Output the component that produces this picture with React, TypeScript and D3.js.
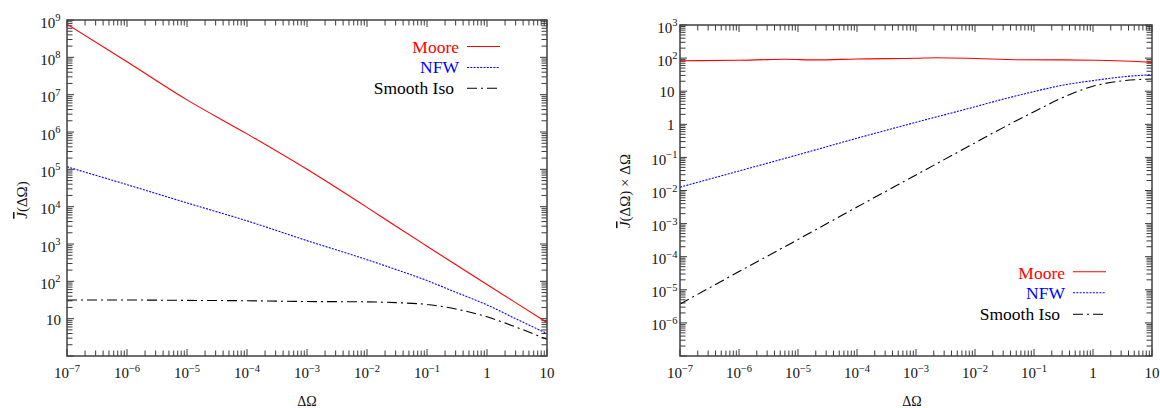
import React from "react";
import * as d3 from "d3";

// ---------- data ----------
// Left panel: J(ΔΩ)
const leftDeltaOmega = [1e-7, 1e-6, 1e-5, 1e-4, 1e-3, 1e-2, 3e-2, 0.1, 0.3, 1, 3, 10];
const leftMoore = [7.76e8, 7.59e7, 7.24e6, 8.91e5, 1.0e5, 9550, 3020, 871, 282, 82.2, 26.9, 7.94];
const leftNFW = [1.17e5, 3.89e4, 1.26e4, 4170, 1230, 380, 209, 105, 51.3, 23.4, 10.0, 4.0];
const leftIso = [31.6, 31.6, 30.9, 30.2, 28.8, 28.2, 26.9, 24.0, 18.2, 11.2, 6.0, 2.8];

// Right panel: J(ΔΩ) × ΔΩ
const rightMooreDeltaOmega = [1e-7, 1e-6, 3e-6, 6e-6, 2e-5, 1e-4, 1e-3, 2.2e-3, 1e-2, 5e-2, 0.3, 1, 2.5, 10];
const rightMoore = [83.2, 85.7, 90.2, 92.3, 88.1, 94.4, 98.9, 102.8, 97.7, 89.5, 88.1, 86.1, 83.2, 74.1];
const rightDeltaOmega = [1e-7, 1e-6, 1e-5, 1e-4, 1e-3, 1e-2, 3e-2, 0.1, 0.3, 1, 3, 10];
const rightNFW = [0.0126, 0.0389, 0.12, 0.38, 1.15, 3.39, 5.75, 9.77, 15.1, 20.9, 26.9, 31.6];
const rightIso = [3.72e-6, 3.55e-5, 3.31e-4, 3.16e-3, 0.0295, 0.275, 0.794, 2.40, 6.31, 14.1, 20.4, 23.4];

const xTickExps = [-7, -6, -5, -4, -3, -2, -1, 0, 1];
const leftYTickExps = [1, 2, 3, 4, 5, 6, 7, 8, 9];
const rightYTickExps = [-6, -5, -4, -3, -2, -1, 0, 1, 2, 3];
const legendNames = ["Moore", "NFW", "Smooth Iso"];

const FONT = "Liberation Serif";
const COLORS = ["#ff0000", "#0000ff", "#000000"];
const DASHES = [undefined, "2,1.3", "10,4,2,4"];

type Series = { x: number[]; y: number[] };

function expLabel(e: number) {
  if (e === 0) return { base: "1", sup: null as string | null };
  if (e === 1) return { base: "10", sup: null as string | null };
  return { base: "10", sup: e < 0 ? "\u2212" + String(-e) : String(e) };
}

function Panel(props: {
  left: number; right: number; top: number; bottom: number;
  yDomain: [number, number]; yTicks: number[];
  series: Series[];
  yLabelEndSup: number; yLabelEndPlain: number;
  xTitleX: number; yTitleX: number; yTitleY: number; yTitleExtra: boolean;
  legend: { textRight: number[]; lineX0: number; lineX1: number; lineY: number[]; baseY: number[] };
  clipId: string;
}) {
  const { left, right, top, bottom } = props;
  const x = d3.scaleLog().domain([1e-7, 10]).range([left, right]);
  const y = d3.scaleLog().domain(props.yDomain).range([bottom, top]);
  const majorLen = 7, minorLen = 5.5;
  const tickColor = "#3a3a3a";

  const ticks: any[] = [];
  for (let e = -7; e <= 1; e++) {
    for (let m = 1; m <= 9; m++) {
      const v = m * Math.pow(10, e);
      if (v > 10 * 1.0001) break;
      const px = x(v);
      const len = m === 1 ? majorLen : minorLen;
      ticks.push(<line key={`xb${e}_${m}`} x1={px} x2={px} y1={bottom} y2={bottom - len} stroke={tickColor} strokeWidth={1} />);
      ticks.push(<line key={`xt${e}_${m}`} x1={px} x2={px} y1={top} y2={top + len} stroke={tickColor} strokeWidth={1} />);
    }
  }
  const yE0 = Math.round(Math.log10(props.yDomain[0]));
  const yE1 = Math.round(Math.log10(props.yDomain[1]));
  for (let e = yE0; e <= yE1; e++) {
    for (let m = 1; m <= 9; m++) {
      const v = m * Math.pow(10, e);
      if (v > props.yDomain[1] * 1.0001) break;
      const py = y(v);
      const len = m === 1 ? majorLen : minorLen;
      ticks.push(<line key={`yl${e}_${m}`} x1={left} x2={left + len} y1={py} y2={py} stroke={tickColor} strokeWidth={1} />);
      ticks.push(<line key={`yr${e}_${m}`} x1={right} x2={right - len} y1={py} y2={py} stroke={tickColor} strokeWidth={1} />);
    }
  }

  const line = d3.line<[number, number]>().x(d => x(d[0])).y(d => y(d[1])).curve(d3.curveMonotoneX);

  return (
    <g>
      <defs>
        <clipPath id={props.clipId}>
          <rect x={left} y={top} width={right - left} height={bottom - top} />
        </clipPath>
      </defs>
      {ticks}
      <g clipPath={`url(#${props.clipId})`}>
        {props.series.map((s, i) => (
          <path key={i} d={line(s.x.map((xv, j) => [xv, s.y[j]] as [number, number])) || ""}
            fill="none" stroke={COLORS[i]} strokeWidth={1.1} strokeDasharray={DASHES[i]} />
        ))}
      </g>
      <rect x={left} y={top} width={right - left} height={bottom - top} fill="none" stroke="#404040" strokeWidth={1.5} />
      {xTickExps.map(e => {
        const l = expLabel(e);
        return (
          <text key={`xl${e}`} x={x(Math.pow(10, e))} y={378} textAnchor="middle" fontFamily={FONT} fontSize={15} fill="#111">
            {l.base}
            {l.sup && <tspan fontSize={10.5} dy={-6.5}>{l.sup}</tspan>}
          </text>
        );
      })}
      {props.yTicks.map(e => {
        const l = expLabel(e);
        const py = y(Math.pow(10, e));
        return (
          <text key={`yl${e}`} x={l.sup ? props.yLabelEndSup : props.yLabelEndPlain} y={py + (l.sup ? 7.5 : 6)}
            textAnchor="end" fontFamily={FONT} fontSize={15} fill="#111">
            {l.base}
            {l.sup && <tspan fontSize={10.5} dy={-6.5}>{l.sup}</tspan>}
          </text>
        );
      })}
      <text x={props.xTitleX} y={406} textAnchor="middle" fontFamily={FONT} fontSize={14} fill="#111">ΔΩ</text>
      <g transform={`translate(${props.yTitleX},${props.yTitleY}) rotate(-90)`}>
        <text x={0} y={0} textAnchor="middle" fontFamily={FONT} fontSize={15} fill="#111">
          <tspan fontStyle="italic" style={{ textDecoration: "overline" }}>J</tspan>
          <tspan>(ΔΩ)</tspan>
          {props.yTitleExtra && <tspan> × ΔΩ</tspan>}
        </text>
      </g>
      {legendNames.map((n, i) => (
        <g key={n}>
          <text x={props.legend.textRight[i]} y={props.legend.baseY[i]} textAnchor="end" fontFamily={FONT} fontSize={17.5} fill={COLORS[i]}>{n}</text>
          <line x1={props.legend.lineX0} x2={props.legend.lineX1} y1={props.legend.lineY[i]} y2={props.legend.lineY[i]}
            stroke={COLORS[i]} strokeWidth={1.1} strokeDasharray={DASHES[i]} />
        </g>
      ))}
    </g>
  );
}

export default function App() {
  return (
    <svg width={1160} height={408} style={{ display: "block", position: "absolute", left: 0, top: 0, background: "#fff" }}>
      <rect x={0} y={0} width={1160} height={408} fill="#fff" />
      <Panel
        left={67} right={547} top={20} bottom={356}
        yDomain={[1, 1e9]} yTicks={leftYTickExps}
        series={[
          { x: leftDeltaOmega, y: leftMoore },
          { x: leftDeltaOmega, y: leftNFW },
          { x: leftDeltaOmega, y: leftIso },
        ]}
        yLabelEndSup={60.5} yLabelEndPlain={61}
        xTitleX={307} yTitleX={27} yTitleY={200} yTitleExtra={false}
        legend={{ textRight: [459, 459, 454], lineX0: 467, lineX1: 500, lineY: [46.5, 67.5, 88.3], baseY: [53, 73, 94] }}
        clipId="clipL"
      />
      <Panel
        left={680} right={1152} top={25} bottom={356}
        yDomain={[1e-7, 1e3]} yTicks={rightYTickExps}
        series={[
          { x: rightMooreDeltaOmega, y: rightMoore },
          { x: rightDeltaOmega, y: rightNFW },
          { x: rightDeltaOmega, y: rightIso },
        ]}
        yLabelEndSup={677.5} yLabelEndPlain={674.5}
        xTitleX={912} yTitleX={630} yTitleY={191} yTitleExtra={true}
        legend={{ textRight: [1065, 1065, 1060], lineX0: 1073, lineX1: 1106, lineY: [271.7, 292.7, 314.3], baseY: [278.5, 299, 320] }}
        clipId="clipR"
      />
    </svg>
  );
}
